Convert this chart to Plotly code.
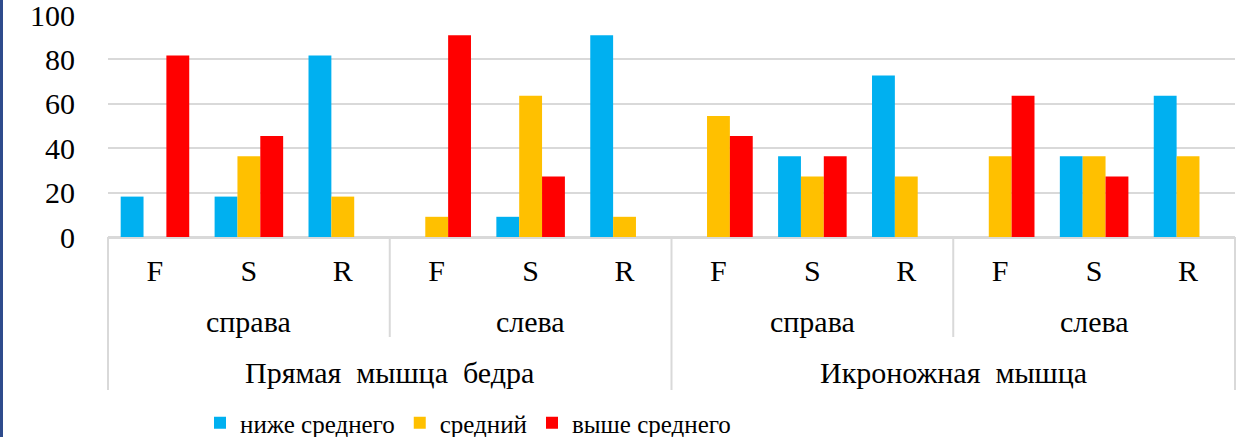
import plotly.graph_objects as go

# ---- data ----
muscles = ["Прямая\u00a0 мышца\u00a0 бедра", "Икроножная\u00a0 мышца"]
sides = ["справа", "слева", "справа", "слева"]
tests = ["F", "S", "R"] * 4
series_names = ["ниже среднего", "средний", "выше среднего"]
below_avg = [18.2, 18.2, 81.8, 0, 9.1, 90.9, 0, 36.4, 72.7, 0, 36.4, 63.6]
average = [0, 36.4, 18.2, 9.1, 63.6, 9.1, 54.5, 27.3, 27.3, 36.4, 36.4, 36.4]
above_avg = [81.8, 45.5, 0, 90.9, 27.3, 0, 45.5, 36.4, 0, 63.6, 27.3, 0]
y_ticks = [0, 20, 40, 60, 80, 100]

colors = ["#00B0F0", "#FFC000", "#FF0000"]
FONT = "'Liberation Serif', 'Times New Roman', serif"
FS = 30
FS_LEG = 25

W, H = 1248, 437
ML, MR, MT, MB = 108, 13, 15, 200
PH = H - MT - MB

def py(px):
    """pixel y (from top) -> paper y"""
    return (H - MB - px) / PH

def pxx(px):
    return (px - ML) / (W - ML - MR)

n = len(tests)
xs = list(range(n))

fig = go.Figure()
for name, vals, c in zip(series_names, [below_avg, average, above_avg], colors):
    fig.add_trace(go.Bar(x=xs, y=vals, name=name, marker=dict(color=c, line=dict(width=0)),
                         hoverinfo="skip"))

fig.update_layout(
    width=W, height=H,
    margin=dict(l=ML, r=MR, t=MT, b=MB, autoexpand=False),
    paper_bgcolor="white", plot_bgcolor="white",
    barmode="group", bargap=0.27, bargroupgap=0,
    font=dict(family=FONT, size=FS, color="#000000"),
    showlegend=True,
    legend=dict(orientation="h", x=pxx(468), xanchor="center", y=py(423), yanchor="middle",
                font=dict(family=FONT, size=FS_LEG, color="#000000"),
                itemwidth=30, tracegroupgap=0, bgcolor="rgba(0,0,0,0)"),
)

fig.update_xaxes(range=[-0.5, n - 0.5], tickmode="array", tickvals=xs, ticktext=tests,
                 showgrid=False, zeroline=False, showline=True, linecolor="#D9D9D9", linewidth=1.5,
                 ticks="", ticklabelstandoff=6, tickfont=dict(family=FONT, size=FS, color="#000"),
                 automargin=False, fixedrange=True)
fig.update_yaxes(range=[0, 100], tickmode="array", tickvals=y_ticks,
                 showgrid=True, gridcolor="#D9D9D9", gridwidth=1.5,
                 zeroline=True, zerolinecolor="#D9D9D9", zerolinewidth=1.5,
                 showline=False, ticks="", ticklabelstandoff=32, ticklabeloverflow="allow",
                 tickfont=dict(family=FONT, size=FS, color="#000"),
                 automargin=False, fixedrange=True)

# category dividers
shapes = []
ybot_full = py(390)
ybot_short = py(337)
for k in range(0, n + 1, 3):
    full = (k % 6 == 0)
    xp = k / n
    shapes.append(dict(type="line", xref="paper", yref="paper", x0=xp, x1=xp,
                       y0=0, y1=ybot_full if full else ybot_short,
                       line=dict(color="#D9D9D9", width=2)))
# left dark border
shapes.append(dict(type="rect", xref="paper", yref="paper", x0=pxx(0), x1=pxx(3),
                   y0=py(H), y1=py(0), line=dict(width=0), fillcolor="#2E4B8C", layer="above"))
fig.update_layout(shapes=shapes)

annotations = []
for i, s in enumerate(sides):
    annotations.append(dict(x=i * 3 + 1, xref="x", y=py(321), yref="paper", text=s,
                            showarrow=False, xanchor="center", yanchor="middle",
                            font=dict(family=FONT, size=FS, color="#000")))
for i, m in enumerate(muscles):
    annotations.append(dict(x=i * 6 + 2.5, xref="x", y=py(372), yref="paper", text=m,
                            showarrow=False, xanchor="center", yanchor="middle",
                            font=dict(family=FONT, size=FS, color="#000")))
fig.update_layout(annotations=annotations)

fig.write_html("out.html", config={"displayModeBar": False},
               post_script="document.body.style.margin='0';document.body.style.overflow='hidden';")
